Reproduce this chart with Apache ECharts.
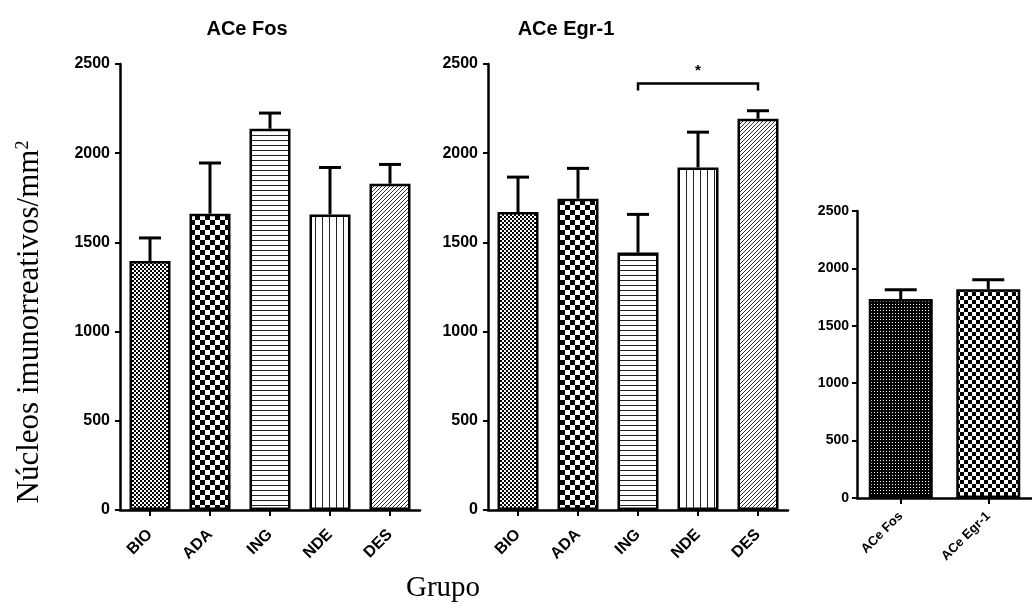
<!DOCTYPE html>
<html>
<head>
<meta charset="utf-8">
<script src="https://cdn.jsdelivr.net/npm/echarts@6/dist/echarts.min.js"></script>
<style>
  html, body { margin: 0; padding: 0; background: #fff; }
  #chart { width: 1032px; height: 604px; }
</style>
</head>
<body>
<div id="chart"></div>
<script>
// Group means and SEM (nuclei per mm²)
const groups = ['BIO', 'ADA', 'ING', 'NDE', 'DES'];
const fosMean = [1396, 1661, 2137, 1657, 1829];
const fosSem = [129, 284, 88, 263, 108];
const egrMean = [1670, 1745, 1443, 1920, 2193];
const egrSem = [196, 170, 214, 198, 45];
const totalCats = ['ACe Fos', 'ACe Egr-1'];
const totalMean = [1733, 1818];
const totalSem = [82, 84];
const yMin = 0, yMax = 2500, yStep = 500;
// significance bracket: [from index, to index, height]
const sigPairs = [[2, 4, 2390]];
const sigMarks = ['*'];

const SANS = '"Liberation Sans", Arial, Helvetica, sans-serif';
const SERIF = '"Liberation Serif", "Times New Roman", serif';

// hatch / checker fills
function tile(w, h, draw) {
  const c = document.createElement('canvas');
  c.width = w; c.height = h;
  const g = c.getContext('2d');
  g.fillStyle = '#fff'; g.fillRect(0, 0, w, h);
  g.fillStyle = '#000';
  draw(g);
  return { image: c, repeat: 'repeat' };
}
const pats = {
  bio: tile(4, 4, g => { g.fillRect(0, 0, 2, 2); g.fillRect(2, 2, 2, 2); }),
  ada: tile(10, 10, g => { g.fillRect(0, 0, 5, 5); g.fillRect(5, 5, 5, 5); }),
  ing: tile(1, 5, g => { g.fillStyle = '#222'; g.fillRect(0, 0, 1, 1); }),
  nde: tile(7, 1, g => { g.fillStyle = '#222'; g.fillRect(0, 0, 1, 1); }),
  des: tile(4, 4, g => { g.fillStyle = '#333'; [[3,0],[2,1],[1,2],[0,3]].forEach(p => g.fillRect(p[0], p[1], 1, 1)); }),
  fos: tile(3, 3, g => { g.fillRect(0, 0, 3, 3); g.fillStyle = '#fff'; g.fillRect(1, 1, 1, 1); }),
  egr: tile(8, 8, g => { g.fillRect(0, 0, 4, 4); g.fillRect(4, 4, 4, 4); })
};
const groupPats = [pats.bio, pats.ada, pats.ing, pats.nde, pats.des];
const totalPats = [pats.fos, pats.egr];

function yAxis(idx, fontSize, margin) {
  return {
    type: 'value', gridIndex: idx, min: yMin, max: yMax, interval: yStep,
    axisLine: { show: true, lineStyle: { color: '#000', width: 2.5 } },
    axisTick: { show: true, length: 5, lineStyle: { color: '#000', width: 2 } },
    splitLine: { show: false },
    axisLabel: { color: '#000', fontFamily: SANS, fontWeight: 'bold', fontSize: fontSize, margin: margin,
                 formatter: v => String(v) }
  };
}
function xAxis(idx, cats, fontSize, margin) {
  return {
    type: 'category', gridIndex: idx, data: cats,
    axisLine: { show: true, lineStyle: { color: '#000', width: 2.5 } },
    axisTick: { show: true, alignWithLabel: true, length: 6, lineStyle: { color: '#000', width: 2 } },
    axisLabel: { color: '#000', fontFamily: SANS, fontWeight: 'bold', fontSize: fontSize, rotate: 45, margin: margin, interval: 0 }
  };
}
function barSeries(idx, means, fills, width) {
  return {
    type: 'bar', xAxisIndex: idx, yAxisIndex: idx, barWidth: width, silent: true,
    data: means.map((v, i) => ({ value: v, itemStyle: { color: fills[i] } })),
    itemStyle: { borderColor: '#000', borderWidth: 2.5 }
  };
}
function errSeries(idx, means, sems, cap) {
  return {
    type: 'custom', xAxisIndex: idx, yAxisIndex: idx, silent: true, z: 3,
    data: means.map((v, i) => [i, v, sems[i]]),
    encode: { x: 0, y: 1 },
    renderItem: (p, api) => {
      const i = api.value(0), m = api.value(1), e = api.value(2);
      const b = api.coord([i, m]), t = api.coord([i, m + e]);
      const st = { stroke: '#000', lineWidth: 3 };
      return { type: 'group', children: [
        { type: 'line', shape: { x1: b[0], y1: b[1], x2: t[0], y2: t[1] }, style: st },
        { type: 'line', shape: { x1: t[0] - cap, y1: t[1], x2: t[0] + cap, y2: t[1] }, style: st }
      ] };
    }
  };
}
const bracketSeries = {
  type: 'custom', xAxisIndex: 1, yAxisIndex: 1, silent: true, z: 3,
  data: sigPairs, encode: { x: [0, 1], y: 2 },
  renderItem: (p, api) => {
    const a = api.coord([api.value(0), api.value(2)]);
    const b = api.coord([api.value(1), api.value(2)]);
    const st = { stroke: '#000', lineWidth: 2.5, fill: null };
    return { type: 'group', children: [
      { type: 'polyline', shape: { points: [[a[0], a[1] + 7], [a[0], a[1]], [b[0], b[1]], [b[0], b[1] + 7]] }, style: st },
      { type: 'text', x: (a[0] + b[0]) / 2, y: a[1] - 5,
        style: { text: sigMarks[p.dataIndex], font: 'bold 15px ' + SANS, fill: '#000',
                 align: 'center', textAlign: 'center', verticalAlign: 'bottom', textVerticalAlign: 'bottom' } }
    ] };
  }
};

function label(x, y, text, font, extra) {
  return Object.assign({ type: 'text', x: x, y: y, silent: true,
    style: { text: text, font: font, fill: '#000', align: 'center', textAlign: 'center',
             verticalAlign: 'middle', textVerticalAlign: 'middle' } }, extra || {});
}

const chart = echarts.init(document.getElementById('chart'));
chart.setOption({
  animation: false,
  backgroundColor: '#fff',
  grid: [
    { left: 120, top: 64, width: 300, height: 446 },
    { left: 488, top: 64, width: 300, height: 446 },
    { left: 857, top: 211, width: 190, height: 287 }
  ],
  xAxis: [xAxis(0, groups, 16, 22), xAxis(1, groups, 16, 22), xAxis(2, totalCats, 13, 16)],
  yAxis: [yAxis(0, 16, 10), yAxis(1, 16, 10), yAxis(2, 14, 8)],
  series: [
    barSeries(0, fosMean, groupPats, 41), errSeries(0, fosMean, fosSem, 11),
    barSeries(1, egrMean, groupPats, 41), errSeries(1, egrMean, egrSem, 11),
    bracketSeries,
    barSeries(2, totalMean, totalPats, 64), errSeries(2, totalMean, totalSem, 16)
  ],
  graphic: [
    label(247, 29, 'ACe Fos', 'bold 20px ' + SANS),
    label(566, 29, 'ACe Egr-1', 'bold 20px ' + SANS),
    label(443, 588, 'Grupo', '29px ' + SERIF),
    { type: 'text', x: 30, y: 322, rotation: Math.PI / 2, silent: true,
      style: { text: 'Núcleos imunorreativos/mm{sup|2}', font: '31px ' + SERIF, fill: '#000',
               align: 'center', textAlign: 'center', verticalAlign: 'middle', textVerticalAlign: 'middle',
               rich: { sup: { fontSize: 18, fontFamily: SERIF, verticalAlign: 'top', padding: [0, 0, 14, 0] } } } }
  ]
});
</script>
</body>
</html>
